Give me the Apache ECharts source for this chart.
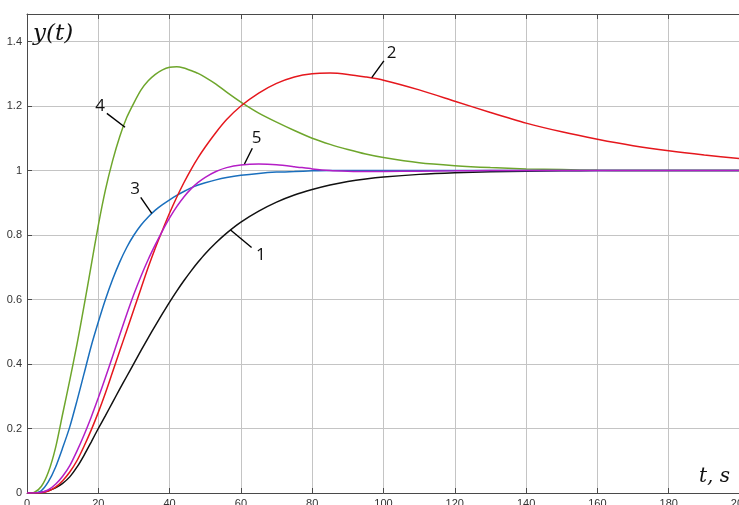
<!DOCTYPE html>
<html>
<head>
<meta charset="utf-8">
<script src="https://cdn.jsdelivr.net/npm/echarts@6/dist/echarts.min.js"></script>
<style>
  html, body { margin: 0; padding: 0; background: #fff; }
  #chart { width: 739px; height: 505px; }
</style>
</head>
<body>
<div id="chart"></div>
<script>
// Sample times, s
const timeGrid = [0, 2, 4, 6, 8, 10, 12, 14, 16, 18, 20, 22, 24, 26, 28, 30, 32, 34, 36, 38, 40, 42, 44, 46, 48, 50, 53, 56, 60, 65, 70, 75, 80, 85, 90, 95, 100, 110, 120, 130, 140, 150, 160, 170, 180, 190, 200];

// Step responses y(t), one per curve
const response1 = [0, 0, 0.002, 0.007, 0.016, 0.03, 0.05, 0.08, 0.117, 0.158, 0.2, 0.24, 0.281, 0.322, 0.362, 0.402, 0.442, 0.481, 0.519, 0.556, 0.592, 0.626, 0.658, 0.688, 0.716, 0.742, 0.776, 0.806, 0.84, 0.874, 0.902, 0.924, 0.941, 0.955, 0.966, 0.974, 0.98, 0.988, 0.993, 0.996, 0.998, 0.999, 1, 1, 1, 1, 1];
const response2 = [0, 0, 0.001, 0.006, 0.018, 0.038, 0.065, 0.1, 0.145, 0.195, 0.25, 0.31, 0.375, 0.44, 0.505, 0.57, 0.635, 0.7, 0.76, 0.815, 0.868, 0.917, 0.962, 1.003, 1.04, 1.073, 1.118, 1.158, 1.2, 1.24, 1.27, 1.29, 1.3, 1.302, 1.298, 1.29, 1.28, 1.25, 1.215, 1.18, 1.147, 1.12, 1.097, 1.077, 1.061, 1.048, 1.037];
const response3 = [0, 0, 0.007, 0.035, 0.08, 0.14, 0.205, 0.285, 0.37, 0.455, 0.53, 0.6, 0.662, 0.716, 0.762, 0.8, 0.831, 0.856, 0.877, 0.894, 0.909, 0.923, 0.935, 0.946, 0.955, 0.962, 0.971, 0.978, 0.985, 0.991, 0.995, 0.997, 0.999, 1, 1, 1, 1, 1, 1, 1, 1, 1, 1, 1, 1, 1, 1];
const response4 = [0, 0.002, 0.02, 0.065, 0.14, 0.245, 0.35, 0.46, 0.58, 0.705, 0.83, 0.94, 1.03, 1.105, 1.165, 1.21, 1.25, 1.278, 1.298, 1.312, 1.32, 1.322, 1.318, 1.31, 1.301, 1.289, 1.268, 1.243, 1.212, 1.178, 1.15, 1.124, 1.1, 1.081, 1.065, 1.051, 1.04, 1.024, 1.015, 1.009, 1.005, 1.003, 1.001, 1, 1, 1, 1];
const response5 = [0, 0, 0.002, 0.01, 0.027, 0.052, 0.085, 0.13, 0.18, 0.235, 0.295, 0.358, 0.423, 0.49, 0.555, 0.617, 0.673, 0.724, 0.77, 0.813, 0.853, 0.888, 0.918, 0.943, 0.963, 0.979, 0.997, 1.009, 1.017, 1.02, 1.018, 1.012, 1.005, 1, 0.998, 0.997, 0.997, 0.998, 0.999, 1, 1, 1, 1, 1, 1, 1, 1];

// Axis ticks
const xTicks = [0, 20, 40, 60, 80, 100, 120, 140, 160, 180, 200];
const yTicks = [0, 0.2, 0.4, 0.6, 0.8, 1, 1.2, 1.4];

// Curve numbers: text, label anchor and leader line ends (t, y)
const curveNames = ['1', '2', '3', '4', '5'];
const labelAnchors = [[65.6, 0.738], [102.3, 1.363], [30.3, 0.942], [20.5, 1.198], [64.4, 1.100]];
const leaderStarts = [[57.1, 0.8155], [100.1, 1.340], [31.9, 0.917], [22.4, 1.177], [63.2, 1.069]];
const leaderEnds = [[63.0, 0.761], [96.7, 1.288], [35.0, 0.867], [27.5, 1.134], [61.0, 1.020]];

const colors = ['#111111', '#e5171d', '#1a6fbd', '#6ea62c', '#b41ec6'];
const responses = [response1, response2, response3, response4, response5];
const drawOrder = [0, 3, 2, 1, 4];

const pairs = (ys) => timeGrid.map((t, i) => [t, ys[i]]);

const chart = echarts.init(document.getElementById('chart'), null, { renderer: 'canvas' });

const axisColor = '#4a4a4a';
const gridColor = '#c4c4c4';
const labelFont = { color: '#333', fontSize: 11, fontFamily: 'Liberation Sans, Arial, sans-serif' };

const option = {
  animation: false,
  backgroundColor: '#ffffff',
  grid: { left: 27, right: -1, top: 14, bottom: 12, containLabel: false, outerBoundsMode: 'none' },
  xAxis: [
    {
      type: 'value', min: xTicks[0], max: xTicks[xTicks.length - 1], interval: xTicks[1] - xTicks[0],
      axisLine: { show: true, onZero: false, lineStyle: { color: axisColor, width: 1 } },
      axisTick: { show: true, inside: true, length: 5, lineStyle: { color: axisColor } },
      axisLabel: Object.assign({ margin: 5 }, labelFont),
      splitLine: { show: true, lineStyle: { color: gridColor, width: 1 } }
    },
    {
      type: 'value', position: 'top', min: xTicks[0], max: xTicks[xTicks.length - 1], interval: xTicks[1] - xTicks[0],
      axisLine: { show: true, onZero: false, lineStyle: { color: axisColor, width: 1 } },
      axisTick: { show: true, inside: true, length: 5, lineStyle: { color: axisColor } },
      axisLabel: { show: false },
      splitLine: { show: false }
    }
  ],
  yAxis: [
    {
      type: 'value', min: yTicks[0], max: 1.4853, interval: yTicks[1] - yTicks[0],
      axisLine: { show: true, onZero: false, lineStyle: { color: axisColor, width: 1 } },
      axisTick: { show: true, inside: true, length: 5, lineStyle: { color: axisColor } },
      axisLabel: Object.assign({
        margin: 5, showMaxLabel: false,
        formatter: (v) => (yTicks.some((t) => Math.abs(t - v) < 1e-6) ? String(+v.toFixed(1)) : '')
      }, labelFont),
      splitLine: {
        show: true, showMaxLine: false, lineStyle: { color: gridColor, width: 1 }
      }
    }
  ],
  series: drawOrder.map((k) => ({
    name: curveNames[k],
    type: 'line',
    data: pairs(responses[k]),
    showSymbol: false,
    symbol: 'none',
    smooth: 0.25,
    lineStyle: { color: colors[k], width: 1.5 },
    z: 3
  }))
};

chart.setOption(option);

// Curve numbers with leader lines, placed in data coordinates
function addAnnotations() {
  const toPx = (p) => chart.convertToPixel({ gridIndex: 0 }, p);
  const elements = [];
  curveNames.forEach((name, i) => {
    const a = toPx(leaderStarts[i]);
    const b = toPx(leaderEnds[i]);
    const c = toPx(labelAnchors[i]);
    elements.push({
      type: 'line', z: 10,
      shape: { x1: a[0], y1: a[1], x2: b[0], y2: b[1] },
      style: { stroke: '#000', lineWidth: 1.4 }
    });
    elements.push({
      type: 'text', z: 10, x: c[0], y: c[1],
      style: {
        text: name, fill: '#111', font: '17px "Open Sans", "Liberation Sans", sans-serif',
        align: 'center', verticalAlign: 'middle'
      }
    });
  });
  // Axis titles
  elements.push({
    type: 'text', z: 10, x: 33, y: 23,
    style: {
      text: 'y(t)', fill: '#111', font: 'italic 23px "DejaVu Serif", serif',
      align: 'left', verticalAlign: 'top'
    }
  });
  elements.push({
    type: 'text', z: 10, x: 730, y: 487,
    style: {
      text: 't, s', fill: '#111', font: 'italic 20px "DejaVu Serif", serif',
      align: 'right', verticalAlign: 'bottom'
    }
  });
  chart.setOption({ graphic: { elements: elements } });
}
addAnnotations();
</script>
</body>
</html>
